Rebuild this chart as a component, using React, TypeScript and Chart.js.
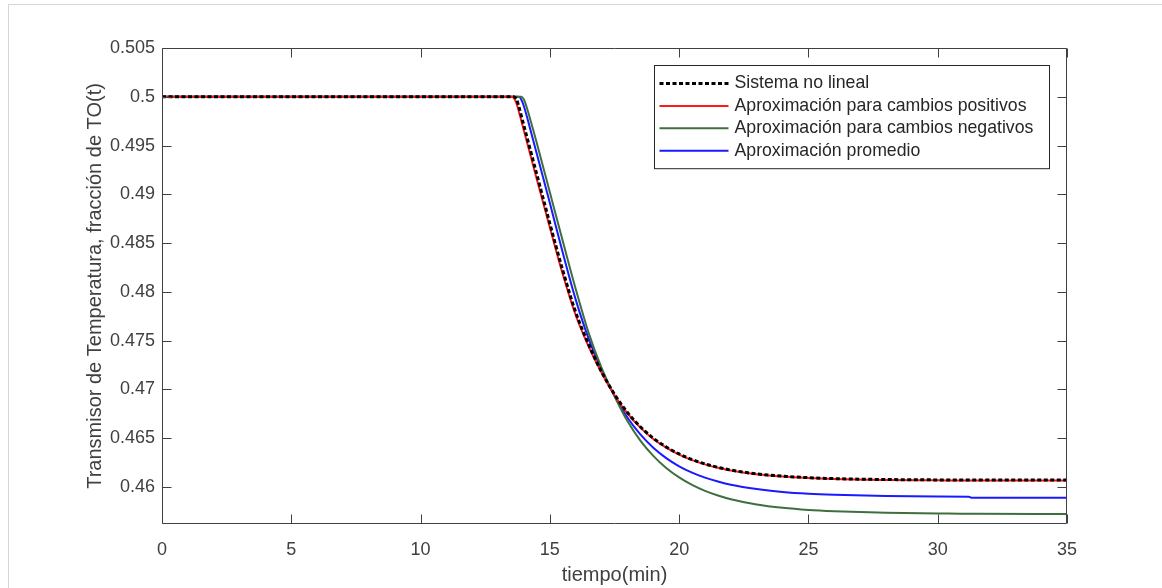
import React, { useEffect, useRef } from 'react';
import { Chart, registerables } from 'chart.js';

Chart.register(...registerables);

// ---- Data ----
const timeMin = [0, 13.5, 13.6, 13.7, 13.8, 13.9, 14.0, 14.25, 14.5, 15.0, 15.5, 16.0, 16.5, 17.0, 17.5, 18.0, 18.5, 19.0, 19.5, 20.0, 20.5, 21.0, 21.5, 22.0, 23.0, 24.0, 25.0, 26.0, 28.0, 30.0, 31.2, 31.3, 35];

const sistemaNoLineal = [0.5, 0.5, 0.5, 0.4998, 0.499, 0.498, 0.497, 0.4945, 0.492, 0.487, 0.4822, 0.4779, 0.4746, 0.4718, 0.4695, 0.46764, 0.46617, 0.465, 0.4641, 0.46338, 0.46281, 0.46236, 0.46201, 0.46173, 0.46134, 0.4611, 0.46095, 0.46085, 0.46076, 0.46072, 0.4607, 0.4607, 0.4607];

const aproxPositivos = [0.5, 0.5, 0.4999, 0.4994, 0.4985, 0.4975, 0.4965, 0.494, 0.4915, 0.4866, 0.4818, 0.4776, 0.4744, 0.4717, 0.4694, 0.46755, 0.46608, 0.46492, 0.46403, 0.46332, 0.46275, 0.46231, 0.46196, 0.46168, 0.4613, 0.46106, 0.46091, 0.46081, 0.46072, 0.46068, 0.46066, 0.46066, 0.46066];

const aproxNegativos = [0.5, 0.5, 0.5, 0.5, 0.5, 0.5, 0.4997, 0.4976, 0.4952, 0.4902, 0.4852, 0.4803, 0.4758, 0.4722, 0.4693, 0.46675, 0.46475, 0.46319, 0.46195, 0.46098, 0.46021, 0.4596, 0.45912, 0.45874, 0.4582, 0.45786, 0.45764, 0.45751, 0.45735, 0.45728, 0.45724, 0.45724, 0.45722];

const aproxPromedio = [0.5, 0.5, 0.5, 0.5, 0.5, 0.4997, 0.499, 0.4966, 0.4941, 0.4891, 0.484, 0.4792, 0.4752, 0.472, 0.46935, 0.46712, 0.46538, 0.46402, 0.46296, 0.46212, 0.46147, 0.46095, 0.46055, 0.46022, 0.45978, 0.45949, 0.45931, 0.4592, 0.45907, 0.45902, 0.459, 0.4589, 0.45888];

const seriesLabels = [
  'Sistema no lineal',
  'Aproximación para cambios positivos',
  'Aproximación para cambios negativos',
  'Aproximación promedio',
];

const xTicks = [0, 5, 10, 15, 20, 25, 30, 35];
const yTicks = [0.46, 0.465, 0.47, 0.475, 0.48, 0.485, 0.49, 0.495, 0.5, 0.505];
const xTitle = 'tiempo(min)';
const yTitle = 'Transmisor de Temperatura, fracción de TO(t)';

const FONT = "'Liberation Sans', Arial, Helvetica, sans-serif";
const AXIS_COLOR = '#404040';
const TEXT_COLOR = '#404040';

const toPoints = (ys: number[]) => timeMin.map((t, i) => ({ x: t, y: ys[i] }));

const matlabFrame = {
  id: 'matlabFrame',
  afterDatasetsDraw(chart: any) {
    const { ctx, chartArea: a, scales } = chart;
    const L = Math.round(a.left) + 0.5;
    const R = Math.round(a.right) - 0.5;
    const T = Math.round(a.top) + 0.5;
    const B = Math.round(a.bottom) - 0.5;
    const tl = 9;
    ctx.save();
    ctx.strokeStyle = AXIS_COLOR;
    ctx.lineWidth = 1;
    ctx.beginPath();
    ctx.rect(L, T, R - L, B - T);
    xTicks.forEach((v) => {
      const px = Math.round(scales.x.getPixelForValue(v)) + 0.5;
      ctx.moveTo(px, B);
      ctx.lineTo(px, B - tl);
      ctx.moveTo(px, T);
      ctx.lineTo(px, T + tl);
    });
    yTicks.forEach((v) => {
      const py = Math.round(scales.y.getPixelForValue(v)) + 0.5;
      ctx.moveTo(L, py);
      ctx.lineTo(L + tl, py);
      ctx.moveTo(R, py);
      ctx.lineTo(R - tl, py);
    });
    ctx.stroke();
    ctx.restore();
  },
  afterDraw(chart: any) {
    const { ctx, chartArea: a } = chart;
    const datasets = chart.data.datasets;
    ctx.save();
    ctx.font = `17.7px ${FONT}`;
    let maxW = 0;
    datasets.forEach((d: any) => {
      maxW = Math.max(maxW, ctx.measureText(d.label).width);
    });
    const padL = 5;
    const sampleLen = 69;
    const gap = 6;
    const padR = 17;
    const rowH = 22.4;
    const padT = 18;
    const w = padL + sampleLen + gap + maxW + padR;
    const h = padT * 2 + rowH * (datasets.length - 1);
    const right = Math.round(a.right - 18) + 0.5;
    const left = Math.round(right - w) + 0.5;
    const top = Math.round(a.top + 17) + 0.5;
    ctx.fillStyle = '#ffffff';
    ctx.fillRect(left, top, right - left, h);
    ctx.strokeStyle = '#262626';
    ctx.lineWidth = 1;
    ctx.strokeRect(left, top, right - left, h);
    datasets.forEach((d: any, i: number) => {
      const y = top + padT + i * rowH;
      ctx.save();
      ctx.strokeStyle = d.borderColor;
      ctx.lineWidth = d.borderWidth;
      ctx.setLineDash(d.borderDash || []);
      ctx.beginPath();
      ctx.moveTo(left + padL, y);
      ctx.lineTo(left + padL + sampleLen, y);
      ctx.stroke();
      ctx.restore();
      ctx.fillStyle = '#262626';
      ctx.textBaseline = 'middle';
      ctx.textAlign = 'left';
      ctx.fillText(d.label, left + padL + sampleLen + gap, y);
    });
    ctx.restore();
  },
};

export default function App() {
  const canvasRef = useRef<HTMLCanvasElement | null>(null);

  useEffect(() => {
    const canvas = canvasRef.current;
    if (!canvas) return;
    const fmt = (v: any) => String(Number(Number(v).toFixed(3)));
    const chart = new Chart(canvas, {
      type: 'line',
      data: {
        datasets: [
          {
            label: seriesLabels[0],
            data: toPoints(sistemaNoLineal),
            borderColor: '#000000',
            borderWidth: 3,
            borderDash: [4, 2.5],
            pointRadius: 0,
            cubicInterpolationMode: 'monotone',
          },
          {
            label: seriesLabels[1],
            data: toPoints(aproxPositivos),
            borderColor: '#ff1a1a',
            borderWidth: 2,
            pointRadius: 0,
            cubicInterpolationMode: 'monotone',
          },
          {
            label: seriesLabels[2],
            data: toPoints(aproxNegativos),
            borderColor: '#3f6f3f',
            borderWidth: 2,
            pointRadius: 0,
            cubicInterpolationMode: 'monotone',
          },
          {
            label: seriesLabels[3],
            data: toPoints(aproxPromedio),
            borderColor: '#1a1aff',
            borderWidth: 2,
            pointRadius: 0,
            cubicInterpolationMode: 'monotone',
          },
        ],
      } as any,
      options: {
        animation: false,
        responsive: false,
        devicePixelRatio: 1,
        parsing: false as any,
        layout: { padding: { top: 48, right: 95, left: 0, bottom: 0 } },
        plugins: {
          legend: { display: false },
          tooltip: { enabled: false },
        },
        scales: {
          x: {
            type: 'linear',
            min: 0,
            max: 35,
            afterFit: (s: any) => {
              s.height = 64;
            },
            afterBuildTicks: (s: any) => {
              s.ticks = xTicks.map((v) => ({ value: v }));
            },
            grid: { display: false, drawTicks: false },
            border: { display: false },
            ticks: {
              padding: 15,
              color: TEXT_COLOR,
              font: { family: FONT, size: 18 },
              maxRotation: 0,
              callback: fmt,
            },
            title: {
              display: true,
              text: xTitle,
              color: TEXT_COLOR,
              font: { family: FONT, size: 20 },
              padding: { top: 0, bottom: 1 },
            },
          },
          y: {
            type: 'linear',
            min: 0.4562,
            max: 0.505,
            afterFit: (s: any) => {
              s.width = 162;
            },
            afterBuildTicks: (s: any) => {
              s.ticks = yTicks.map((v) => ({ value: v }));
            },
            grid: { display: false, drawTicks: false },
            border: { display: false },
            ticks: {
              padding: 7,
              color: TEXT_COLOR,
              font: { family: FONT, size: 18 },
              callback: fmt,
            },
            title: {
              display: true,
              text: yTitle,
              color: TEXT_COLOR,
              font: { family: FONT, size: 20 },
              padding: { top: 83, bottom: 0 },
            },
          },
        },
      } as any,
      plugins: [matlabFrame],
    });
    return () => chart.destroy();
  }, []);

  return (
    <div style={{ position: 'fixed', left: 0, top: 0, width: 1162, height: 588, background: '#ffffff', overflow: 'hidden' }}>
      <div
        style={{
          position: 'absolute',
          left: 8,
          top: 4,
          width: 1200,
          height: 700,
          borderTop: '1px solid #d6d6d6',
          borderLeft: '1px solid #d6d6d6',
        }}
      />
      <canvas
        ref={canvasRef}
        width={1162}
        height={588}
        style={{ position: 'absolute', left: 0, top: 0, width: 1162, height: 588 }}
      />
    </div>
  );
}
